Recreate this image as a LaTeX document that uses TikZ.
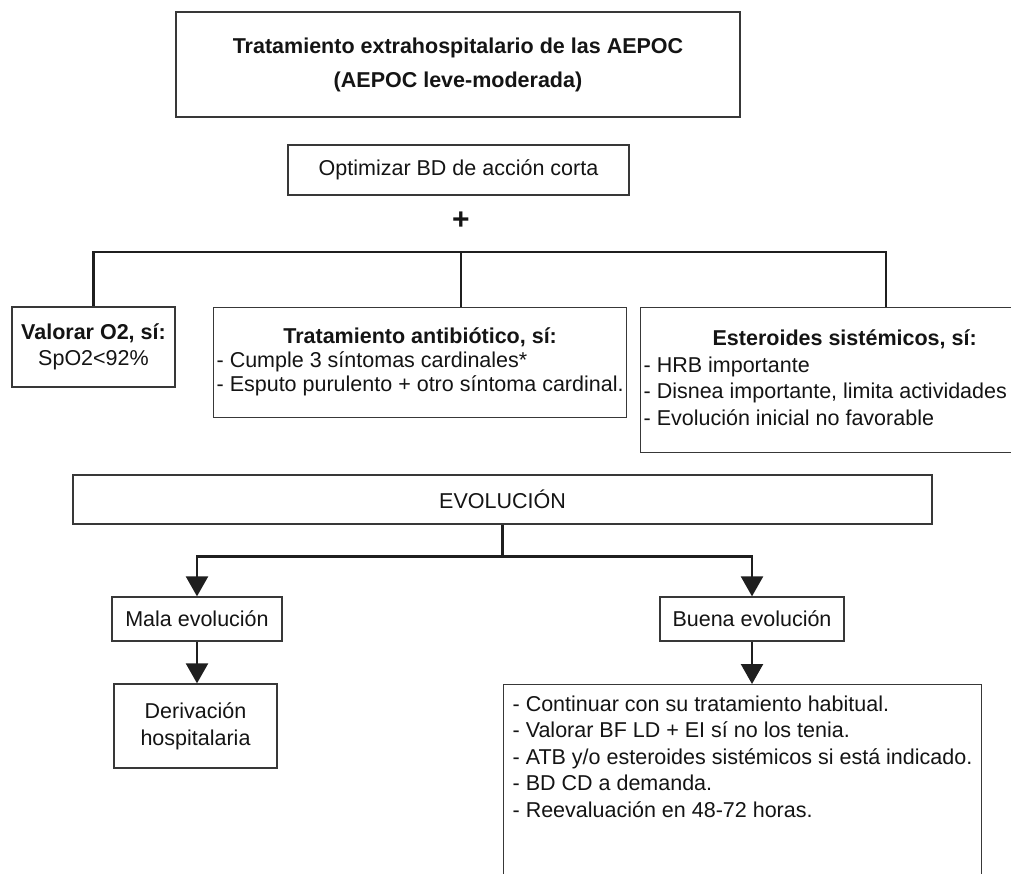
\documentclass[tikz,border=0pt]{standalone}
\usepackage{fontspec}
\setmainfont{Liberation Sans}
\usetikzlibrary{arrows.meta}
\newcommand\fsz[1]{\fontsize{21.5}{#1}\selectfont}
\begin{document}
\begin{tikzpicture}[x=1pt,y=-1pt,
  box/.style={draw=black!78, line width=1.3pt, inner sep=0pt, text=black!92},
  conn/.style={draw=black!88, line width=2.4pt},
  arr/.style={conn, -{Triangle[width=22pt,length=20pt]}},
]
\useasboundingbox (0,0) rectangle (1011,873);
\fill[white] (0,0) rectangle (1011,873);
\clip (0,0) rectangle (1011,873);

% top title
\node[box, minimum width=564pt, minimum height=105pt, align=center,
      font=\bfseries\fsz{34}] (top) at (458,64.5)
      {Tratamiento extrahospitalario de las AEPOC\\(AEPOC leve-moderada)};

\node[box, minimum width=341pt, minimum height=50pt, font=\fsz{26}] (opt) at (458.5,170)
      {Optimizar BD de acción corta};

\node[font=\bfseries\fontsize{30}{30}\selectfont, text=black!92, inner sep=0pt] (plus) at (461,221) {+};

% three branches
\node[box, minimum width=163pt, minimum height=80pt, align=center, font=\fsz{26}] (val) at (93.5,347)
      {\textbf{Valorar O2, sí:}\\SpO2<92\%};

\node[box, anchor=north west, inner xsep=3pt, inner ysep=19pt, font=\fsz{24}] (trat) at (213,307)
      {\begin{tabular}{@{}l@{}}\multicolumn{1}{@{}c@{}}{\bfseries Tratamiento antibiótico, sí:}\\
       - Cumple 3 síntomas cardinales*\\
       - Esputo purulento + otro síntoma cardinal.\end{tabular}};

\node[box, anchor=north west, inner xsep=3pt, inner ysep=19.4pt, font=\fsz{26.5}] (est) at (640,307)
      {\begin{tabular}{@{}p{402pt}@{}}\multicolumn{1}{@{}c@{}}{\bfseries Esteroides sistémicos, sí:}\\
       - HRB importante\\
       - Disnea importante, limita actividades\\
       - Evolución inicial no favorable\end{tabular}};

\coordinate (busR) at (886,252);
\draw[conn] (val.north) |- (busR) -- (busR |- est.north);
\draw[conn] (plus |- busR) -- (plus |- trat.north);

% evolution
\node[box, minimum width=859pt, minimum height=49pt, font=\fsz{26}] (evo) at (502.5,499.5) {EVOLUCIÓN};

\node[box, minimum width=170pt, minimum height=44pt, font=\fsz{26}] (mala) at (197,619) {Mala evolución};
\node[box, minimum width=184pt, minimum height=44pt, font=\fsz{26}] (buena) at (752,619) {Buena evolución};

\node[box, minimum width=163pt, minimum height=84pt, align=center, font=\fsz{27}] (der) at (195.5,726)
      {Derivación\\hospitalaria};

\node[box, anchor=north west, inner xsep=9pt, inner ysep=8pt, font=\fsz{26.5}] (big) at (503,684)
      {\begin{tabular}{@{}l@{}}
       - Continuar con su tratamiento habitual.\\
       - Valorar BF LD + EI sí no los tenia.\\
       - ATB y/o esteroides sistémicos si está indicado.\\
       - BD CD a demanda.\\
       - Reevaluación en 48-72 horas.\\[80pt]
       \end{tabular}};

\draw[conn] (evo.south) -- ++(0,32) coordinate (evoJ);
\draw[arr] (evoJ) -| (mala.north);
\draw[arr] (evoJ) -| (buena.north);
\draw[arr] (mala.south) -- (mala.south |- der.north);
\draw[arr] (buena.south) -- (buena.south |- big.north);
\end{tikzpicture}
\end{document}
